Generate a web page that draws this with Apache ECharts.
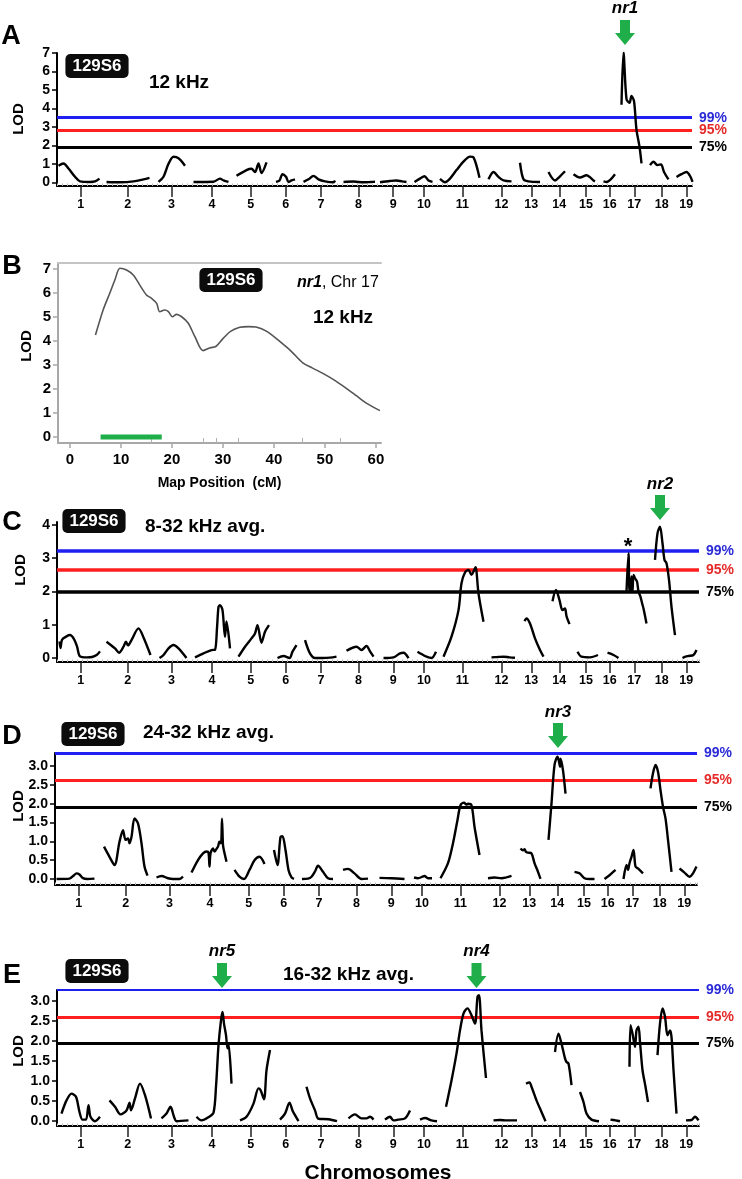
<!DOCTYPE html>
<html><head><meta charset="utf-8">
<script src="https://cdn.jsdelivr.net/npm/echarts@6/dist/echarts.min.js"></script>
<style>html,body{margin:0;padding:0;background:#fff}#c{width:742px;height:1179px}</style>
</head><body><div id="c"></div>
<script>
// ---------------- DATA ----------------
const chromosomes = ['1','2','3','4','5','6','7','8','9','10','11','12','13','14','15','16','17','18','19'];
// genetic map length of each chromosome (cM-like units)
const chromLength = [95,93,82,80,75,65,76,74,65,58,95,62,57,55,52,43,55,55,43];
const thresholdLabels = ['99%','95%','75%'];

// genome scans: per chromosome, [position within chromosome, LOD]
const lodA = [
 [[3,0.9],[13,1.02],[23,0.75],[36,0.3],[46,0.05],[66,0.02],[76,0.05],[85,0.2]],
 [[4,0.02],[31,0.0],[58,0.05],[78,0.16],[90,0.24]],
 [[15,0.02],[25,0.3],[35,1.0],[45,1.38],[55,1.3],[68,0.9]],
 [[3,0.02],[43,0.03],[56,0.2],[63,0.1],[73,0.02]],
 [[9,0.35],[29,0.66],[39,0.73],[46,0.55],[53,1.02],[59,0.5],[69,1.08]],
 [[13,0.02],[20,0.1],[26,0.44],[33,0.3],[38,0.02],[44,0.1],[51,0.16]],
 [[3,0.02],[13,0.16],[23,0.35],[33,0.16],[46,0.05],[63,0.0],[66,0.1]],
 [[7,0.02],[27,0.04],[47,0.0],[62,0.02],[70,0.03]],
 [[6,0.0],[26,0.07],[39,0.1],[50,0.05],[59,0.02]],
 [[10,0.02],[21,0.2],[30,0.33],[38,0.1],[46,0.02]],
 [[3,0.18],[13,0.0],[23,0.2],[36,0.66],[50,1.12],[63,1.39],[70,1.35],[82,0.25]],
 [[5,0.16],[15,0.56],[25,0.29],[35,0.1],[51,0.05]],
 [[6,1.06],[13,0.16],[23,0.05],[46,0.02]],
 [[6,0.56],[19,0.1],[28,0.3],[39,0.6]],
 [[1,0.44],[14,0.26],[27,0.38],[41,0.1],[44,0.05]],
 [[9,0.05],[15,0.02],[32,0.44]],
 [[2,4.2],[6,7.03],[12,4.5],[18,4.3],[22,4.67],[27,4.4],[32,2.84],[38,1.93],[42,1.02]],
 [[4,0.93],[11,1.11],[19,0.93],[26,0.97],[32,0.56],[41,0.16]],
 [[2,0.29],[12,0.44],[22,0.56],[30,0.3],[34,0.02]]
];
const lodC = [
 [[5,0.5],[7,0.3],[10,0.55],[19,0.65],[26,0.69],[34,0.57],[40,0.35],[46,0.05],[60,0.02],[70,0.03],[80,0.1],[86,0.2]],
 [[4,0.49],[21,0.29],[29,0.16],[38,0.34],[43,0.49],[47,0.38],[54,0.54],[68,0.89],[78,0.62],[92,0.09]],
 [[17,0.0],[25,0.09],[35,0.29],[45,0.39],[55,0.29],[71,0.0]],
 [[6,0.02],[23,0.14],[39,0.24],[46,0.25],[50,0.9],[53,1.54],[56,1.59],[61,1.44],[66,0.64],[69,1.1],[76,0.29]],
 [[13,0.04],[26,0.34],[39,0.59],[46,0.74],[51,0.99],[59,0.46],[66,0.79],[74,0.99]],
 [[16,0.0],[28,0.06],[40,0.0],[46,0.19],[54,0.39]],
 [[6,0.54],[16,0.14],[26,0.0],[40,0.0],[56,0.01],[69,0.04]],
 [[13,0.22],[33,0.34],[43,0.24],[53,0.36],[60,0.2],[67,0.04]],
 [[13,0.0],[33,0.02],[46,0.14],[53,0.16],[63,0.0]],
 [[16,0.19],[24,0.12],[34,0.04],[44,0.0],[53,0.19]],
 [[10,0.04],[26,0.64],[40,1.44],[46,2.25],[53,2.57],[60,2.65],[66,2.5],[70,2.6],[74,2.73],[80,1.94],[90,1.09]],
 [[11,0.02],[23,0.03],[35,0.04],[47,0.02],[58,0.01]],
 [[15,1.11],[19,1.19],[26,1.04],[36,0.59],[46,0.24],[53,0.04]],
 [[14,1.71],[21,2.05],[28,1.74],[34,1.44],[39,1.49],[42,1.26],[48,1.02]],
 [[9,0.19],[17,0.04],[34,0.02],[50,0.09]],
 [[17,0.16],[29,0.09],[39,0.0]],
 [[12,2.0],[16,3.15],[18,2.0],[20,2.0],[22,2.45],[24,2.0],[26,2.5],[29,2.4],[33,2.3],[36,2.0],[40,1.84],[44,1.6],[46,1.49],[52,1.04]],
 [[14,2.95],[19,3.75],[24,3.95],[29,3.45],[33,2.95],[37,2.85],[42,2.35],[47,1.54],[54,0.69]],
 [[14,0.0],[20,0.04],[26,0.06],[36,0.09],[42,0.24]]
];
const lodD = [
 [[3,0.0],[29,0.01],[38,0.1],[43,0.15],[49,0.12],[55,0.03],[65,0.0],[79,0.01]],
 [[3,0.86],[14,0.59],[24,0.37],[34,0.99],[41,1.3],[46,1.04],[51,1.08],[54,0.95],[58,1.12],[64,1.61],[71,1.48],[78,0.95],[84,0.33],[90,0.09]],
 [[15,0.04],[25,0.08],[38,0.02],[48,0.0],[61,0.0],[68,0.06]],
 [[3,0.17],[16,0.5],[26,0.68],[33,0.73],[37,0.7],[39,0.33],[41,0.68],[46,0.81],[49,0.73],[53,0.8],[56,0.86],[59,0.99],[62,0.95],[64,1.6],[66,0.9],[68,0.75],[73,0.46]],
 [[9,0.24],[19,0.06],[28,0.0],[39,0.24],[49,0.5],[59,0.59],[69,0.4]],
 [[13,0.77],[20,0.37],[26,1.12],[30,1.14],[36,0.77],[42,0.24],[48,0.04],[53,0.0]],
 [[4,0.0],[16,0.01],[23,0.06],[30,0.2],[36,0.35],[46,0.19],[56,0.02],[66,0.0]],
 [[10,0.24],[20,0.27],[33,0.15],[47,0.0],[60,0.01]],
 [[9,0.03],[33,0.02],[59,0.0]],
 [[13,0.04],[21,0.02],[30,0.06],[34,0.08],[41,0.02],[49,0.02]],
 [[8,0.02],[23,0.42],[33,0.95],[42,1.57],[48,1.96],[55,2.03],[60,1.98],[63,2.0],[70,1.96],[76,1.39],[86,0.64]],
 [[8,0.02],[21,0.04],[35,0.02],[55,0.08]],
 [[11,0.81],[16,0.76],[19,0.79],[22,0.72],[26,0.7],[33,0.68],[39,0.42],[46,0.19],[51,0.0]],
 [[10,1.04],[16,2.01],[22,3.03],[28,3.25],[31,3.12],[33,2.98],[34,3.2],[39,2.89],[44,2.27]],
 [[7,0.19],[17,0.15],[27,0.02],[37,0.0],[47,0.0]],
 [[15,0.0],[25,0.1],[37,0.24]],
 [[10,0.0],[16,0.37],[19,0.24],[22,0.42],[26,0.59],[30,0.77],[34,0.33],[39,0.28],[49,0.15]],
 [[9,2.41],[14,2.81],[19,3.03],[24,2.85],[29,2.36],[34,1.92],[39,1.61],[44,1.04],[51,0.19]],
 [[12,0.28],[22,0.17],[32,0.06],[39,0.15],[46,0.33]]
];
const lodE = [
 [[9,0.19],[19,0.52],[29,0.69],[38,0.61],[45,0.23],[51,0.04],[58,0.04],[63,0.4],[67,0.11],[76,0.0],[86,0.11]],
 [[10,0.52],[21,0.36],[32,0.17],[44,0.27],[50,0.46],[53,0.27],[61,0.57],[71,0.94],[81,0.65],[93,0.07]],
 [[21,0.07],[31,0.19],[39,0.36],[46,0.11],[51,0.0],[75,0.02]],
 [[9,0.11],[19,0.02],[33,0.1],[43,0.21],[48,0.86],[53,1.9],[58,2.52],[61,2.73],[64,2.44],[68,2.15],[71,1.82],[73,1.94],[79,0.94]],
 [[16,0.02],[29,0.11],[43,0.44],[53,0.82],[57,0.78],[64,0.55],[69,1.27],[76,1.78]],
 [[21,0.04],[31,0.19],[40,0.46],[46,0.27],[51,0.15],[58,0.0]],
 [[9,0.86],[16,0.57],[26,0.27],[33,0.06],[53,0.05],[70,0.0]],
 [[17,0.07],[30,0.17],[43,0.07],[53,0.07],[60,0.11],[67,0.04]],
 [[16,0.04],[26,0.11],[33,0.02],[43,0.04],[56,0.07],[66,0.27]],
 [[21,0.04],[31,0.08],[44,0.02],[55,0.0]],
 [[15,0.36],[26,1.02],[36,1.69],[43,2.27],[50,2.69],[58,2.82],[66,2.65],[73,2.44],[78,3.11],[81,3.15],[86,2.27],[95,1.08]],
 [[15,0.02],[28,0.03],[41,0.02],[62,0.02]],
 [[18,0.94],[25,0.97],[29,0.86],[39,0.52],[49,0.23],[57,0.0]],
 [[19,1.73],[26,2.19],[32,1.94],[39,1.57],[42,1.48],[46,1.44],[52,0.9]],
 [[14,0.73],[21,0.48],[27,0.19],[37,0.04],[52,0.0]],
 [[23,0.04],[33,0.02],[42,0.0]],
 [[18,1.36],[20,2.4],[24,2.19],[29,1.86],[32,2.27],[36,2.36],[39,1.98],[44,1.28],[50,0.86],[55,0.48]],
 [[19,1.65],[24,2.44],[29,2.82],[34,2.61],[39,2.15],[44,2.27],[47,2.11],[51,1.28],[57,0.19]],
 [[21,0.02],[32,0.03],[39,0.11],[46,0.02]]
];
// significance thresholds (99%, 95%, 75%)
const thrA = [3.5, 2.8, 1.9];
const thrC = [3.22, 2.65, 1.98];
const thrD = [3.34, 2.63, 1.91];
const thrE = [3.28, 2.6, 1.95];
// QTL annotations: chromosome, position within chromosome
const qtlA = [{chr:17, pos:9, name:'nr1'}];
const qtlC = [{chr:18, pos:24, name:'nr2'}];
const qtlD = [{chr:14, pos:29, name:'nr3'}];
const qtlE = [{chr:4, pos:60, name:'nr5'}, {chr:11, pos:76, name:'nr4'}];
const suggestiveC = [{chr:17, pos:15, name:'*'}];

// Panel B: chr 17 interval map
const mapPos = [5.0,6.5,7.8,8.8,9.8,11.1,12.4,13.7,15.0,16.0,17.0,17.6,18.6,19.3,20.1,20.9,21.9,23.2,24.5,26.1,27.5,28.6,30.0,31.5,33.3,35.0,36.5,38.6,41.2,43.5,45.6,47.5,49.6,52.0,54.2,56.3,58.2,60.8];
const lodB   = [4.25,5.29,5.99,6.54,7.03,6.96,6.75,6.33,5.92,5.78,5.57,5.22,5.29,5.22,5.01,5.11,5.01,4.74,4.18,3.6,3.72,3.77,4.1,4.4,4.57,4.6,4.58,4.4,3.97,3.55,3.1,2.88,2.65,2.35,2.03,1.7,1.4,1.1];
const ciB = [6, 18];
const markerPosB = [16.0, 26.1, 28.6, 33.0, 45.6, 53.0];
const bXTicks = [0,10,20,30,40,50,60];
const bYTicks = [0,1,2,3,4,5,6,7];

// ---------------- BUILD ----------------
const FONT = '"Liberation Sans", Arial, Helvetica, sans-serif';
const chromStart = []; { let a = 0; chromLength.forEach(l => { chromStart.push(a); a += l; }); }
const chromCenter = chromLength.map((l, i) => chromStart[i] + l / 2);
const thrColors = ['#1f1ff2', '#ff1f1f', '#000000'];
const thrTextColors = ['#2a2ad8', '#e52a2a', '#000000'];
const GREEN = '#1fae4a';
const ARROW = 'path://M5,0 L15,0 L15,13 L20,13 L10,25 L0,13 L5,13 Z';

const panels = [
  {lod: lodA, thr: thrA, qtl: qtlA, grid: {left:57, top:53, width:635, height:133}, xMax:1270, yMin:-0.2, yMax:7.0,
   yTicks:[0,1,2,3,4,5,6,7], dec:0, lw:[3,3,3], anchor:6.5, off:-29.7, labDist:3},
  {lod: lodC, thr: thrC, qtl: qtlC, grid: {left:57, top:522, width:642, height:140}, xMax:1284, yMin:-0.12, yMax:4.09,
   yTicks:[0,1,2,3,4], dec:0, lw:[3.5,3.5,3.5], anchor:3.9, off:-20.8, labDist:2, star:true},
  {lod: lodD, thr: thrD, qtl: qtlD, grid: {left:55, top:753, width:642, height:132}, xMax:1284, yMin:-0.16, yMax:3.35,
   yTicks:[0,0.5,1,1.5,2,2.5,3], dec:1, lw:[3,3,3], anchor:3.2, off:-23.2, labDist:2},
  {lod: lodE, thr: thrE, qtl: qtlE, grid: {left:57, top:990, width:642, height:136}, xMax:1284, yMin:-0.12, yMax:3.28,
   yTicks:[0,0.5,1,1.5,2,2.5,3], dec:1, lw:[2,3,3], anchor:3.0, off:-25.7, labDist:3, xName:'Chromosomes'}
];

const grids = [], xAxes = [], yAxes = [], series = [];
const gridOrder = [0, 'B', 1, 2, 3];

function yAxisDef(gi, min, max, ticks, dec, color, fs) {
  return {type:'value', gridIndex:gi, min, max,
    axisLine:{show:true, onZero:false, lineStyle:{color, width:2}},
    axisTick:{show:true, customValues:ticks, length:5, lineStyle:{color, width:1.5}},
    axisLabel:{show:true, customValues:ticks, margin:7, fontSize:fs, fontWeight:'bold', color:'#000', fontFamily:FONT,
      formatter: v => Number(v).toFixed(dec)},
    splitLine:{show:false}};
}

gridOrder.forEach((g, gi) => {
  if (g === 'B') {
    grids.push({left:58, top:263, width:323, height:180, outerBoundsMode:'none'});
    xAxes.push({type:'value', gridIndex:gi, min:-2.35, max:61, position:'bottom',
      name:'Map Position  (cM)', nameLocation:'middle', nameGap:33,
      nameTextStyle:{fontSize:14, fontWeight:'bold', color:'#000', fontFamily:FONT},
      axisLine:{show:true, onZero:false, lineStyle:{color:'#a8a8a8', width:2}},
      axisTick:{show:true, customValues:bXTicks, length:5, lineStyle:{color:'#a8a8a8', width:1.5}},
      axisLabel:{show:true, customValues:bXTicks, margin:9, fontSize:15, fontWeight:'bold', color:'#000', fontFamily:FONT},
      splitLine:{show:false}});
    const xi = xAxes.length - 1;
    xAxes.push({type:'value', gridIndex:gi, min:-2.35, max:61, position:'top',
      axisLine:{show:true, onZero:false, lineStyle:{color:'#c4c4c4', width:2}},
      axisTick:{show:false}, axisLabel:{show:false}, splitLine:{show:false}});
    // marker (genotyped locus) positions as small inside ticks
    xAxes.push({type:'value', gridIndex:gi, min:-2.35, max:61, position:'bottom',
      axisLine:{show:false, onZero:false},
      axisTick:{show:true, inside:true, customValues:markerPosB, length:5, lineStyle:{color:'#b0b0b0', width:1}},
      axisLabel:{show:false}, splitLine:{show:false}});
    yAxes.push(yAxisDef(gi, -0.25, 7.25, bYTicks, 0, '#a8a8a8', 15));
    const yi = yAxes.length - 1;
    series.push({type:'line', xAxisIndex:xi, yAxisIndex:yi, data: mapPos.map((x, k) => [x, lodB[k]]),
      symbol:'none', smooth:0.3, lineStyle:{color:'#555', width:1.6}, silent:true, z:3});
    series.push({type:'line', xAxisIndex:xi, yAxisIndex:yi, data: ciB.map(x => [x, 0]),
      symbol:'none', lineStyle:{color:GREEN, width:5, cap:'butt'}, silent:true, z:4});
    return;
  }
  const p = panels[g];
  grids.push(Object.assign({outerBoundsMode:'none'}, p.grid));
  xAxes.push({type:'value', gridIndex:gi, min:0, max:p.xMax, position:'bottom',
    name: p.xName || '', nameLocation:'middle', nameGap:37,
    nameTextStyle:{fontSize:21, fontWeight:'bold', color:'#000', fontFamily:FONT},
    axisLine:{show:true, onZero:false, lineStyle:{color:'#000', width:2}},
    axisTick:{show:true, customValues:chromCenter, length:11, lineStyle:{color:'#222', width:1.5}},
    axisLabel:{show:true, customValues:chromCenter, margin:12, fontSize:12.5, fontWeight:'bold', color:'#000', fontFamily:FONT,
      formatter: v => { let b = 0; chromCenter.forEach((c, i) => { if (Math.abs(c - v) < Math.abs(chromCenter[b] - v)) b = i; }); return chromosomes[b]; }},
    splitLine:{show:false}});
  const xi = xAxes.length - 1;
  // faint marker rug along the baseline
  xAxes.push({type:'value', gridIndex:gi, min:0, max:p.xMax, interval:10, position:'bottom',
    axisLine:{show:false, onZero:false},
    axisTick:{show:true, inside:true, length:2.5, lineStyle:{color:'#b8b8b8', width:1}},
    axisLabel:{show:false}, splitLine:{show:false}});
  yAxes.push(yAxisDef(gi, p.yMin, p.yMax, p.yTicks, p.dec, '#000', 14));
  const yi = yAxes.length - 1;

  p.lod.forEach((pts, ci) => {
    const s = {type:'line', xAxisIndex:xi, yAxisIndex:yi, data: pts.map(([pos, v]) => [chromStart[ci] + pos, v]),
      symbol:'none', smooth:0.3, lineStyle:{color:'#000', width:2.4}, silent:true, z:3};
    if (ci === 0) {
      s.markLine = {silent:true, symbol:'none', z:1, animation:false,
        data: p.thr.map((v, k) => ({yAxis:v, lineStyle:{color:thrColors[k], width:p.lw[k], type:'solid'},
          label:{show:true, position:'end', distance:7, formatter:thresholdLabels[k], color:thrTextColors[k],
            fontSize:14, fontWeight:'bold', fontFamily:FONT}}))};
    }
    const mps = [];
    p.qtl.filter(q => q.chr === ci + 1).forEach(q => {
      mps.push({coord:[chromStart[ci] + q.pos, p.anchor], symbol:ARROW, symbolSize:[20,25], symbolOffset:[0, p.off],
        itemStyle:{color:GREEN},
        label:{show:true, position:'top', distance:p.labDist, formatter:q.name, fontSize:17, fontWeight:'bold',
          fontStyle:'italic', color:'#000', fontFamily:FONT}});
    });
    if (p.star) suggestiveC.filter(q => q.chr === ci + 1).forEach(q => {
      mps.push({coord:[chromStart[ci] + q.pos, 3.1], symbol:'rect', symbolSize:1, itemStyle:{color:'rgba(0,0,0,0)'},
        label:{show:true, position:'inside', offset:[0,-8], formatter:q.name, fontSize:22, fontWeight:'bold', color:'#000', fontFamily:FONT}});
    });
    if (mps.length) s.markPoint = {silent:true, animation:false, data:mps};
    series.push(s);
  });
});

function txt(x, y, text, font, extra) {
  return Object.assign({type:'text', x, y, silent:true,
    style:Object.assign({text, font, fill:'#000', align:'center', verticalAlign:'middle'}, extra || {})});
}
function badge(x, y) {
  return txt(x, y, '129S6', 'bold 17px ' + FONT, {fill:'#fff', backgroundColor:'#0c0c0c', borderRadius:5,
    padding:[3,7,3,7], lineHeight:18});
}
function lodLabel(x, y) {
  const t = txt(x, y, 'LOD', 'bold 15px ' + FONT);
  t.rotation = Math.PI / 2;
  return t;
}
const letterFont = 'bold 27px ' + FONT;
const titleFont = 'bold 19px ' + FONT;
const graphic = [
  txt(11, 37, 'A', letterFont), txt(12, 267, 'B', letterFont), txt(12, 523, 'C', letterFont),
  txt(12, 737, 'D', letterFont), txt(12, 976, 'E', letterFont),
  badge(97, 66), badge(231, 280), badge(94, 521), badge(93, 734), badge(97, 971),
  txt(179, 83, '12 kHz', titleFont),
  txt(343, 318, '12 kHz', titleFont),
  txt(145, 527, '8-32 kHz avg.', titleFont, {align:'left'}),
  txt(143, 733, '24-32 kHz avg.', titleFont, {align:'left'}),
  txt(283, 975, '16-32 kHz avg.', titleFont, {align:'left'}),
  txt(297, 283, '{a|nr1}{b|, Chr 17}', '16px ' + FONT, {align:'left',
    rich:{a:{font:'italic bold 16px ' + FONT, fill:'#000'}, b:{font:'16px ' + FONT, fill:'#000'}}}),
  lodLabel(19, 119), lodLabel(27, 346), lodLabel(21, 570), lodLabel(19, 806), lodLabel(19, 1051)
];

const chart = echarts.init(document.getElementById('c'), null, {renderer:'canvas'});
chart.setOption({animation:false, backgroundColor:'#fff', textStyle:{fontFamily:FONT},
  grid:grids, xAxis:xAxes, yAxis:yAxes, series, graphic});
</script>
</body></html>
